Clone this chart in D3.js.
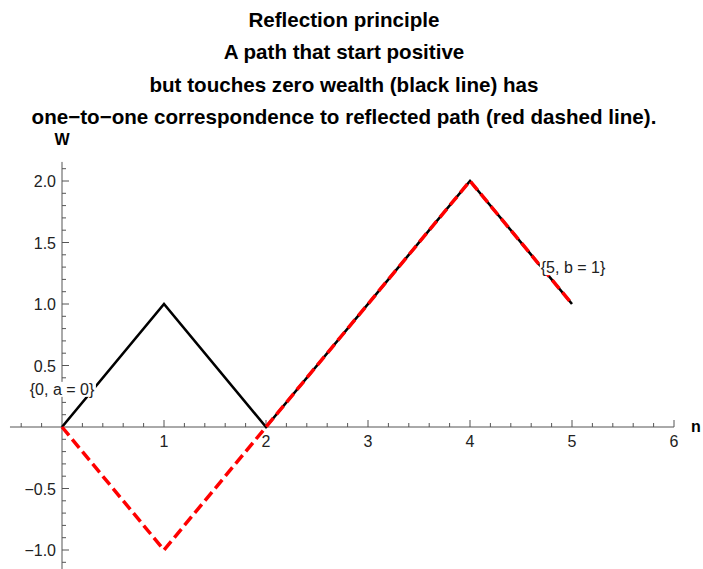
<!DOCTYPE html>
<html>
<head>
<meta charset="utf-8">
<script src="https://cdn.jsdelivr.net/npm/d3@7"></script>
<style>
  body { margin: 0; background: #fff; }
  text { font-family: "Liberation Sans", Arial, sans-serif; }
</style>
</head>
<body>
<svg id="chart" width="703" height="569"></svg>
<script>
// Random-walk path and its reflection about zero wealth
const steps = [0, 1, 2, 4, 5];
const pathW = [0, 1, 0, 2, 1];
const reflectedW = [0, -1, 0, 2, 1];

const xTicks = [1, 2, 3, 4, 5, 6];
const yTicks = [-1.0, -0.5, 0.5, 1.0, 1.5, 2.0];

const titleLines = [
  "Reflection principle",
  "A path that start positive",
  "but touches zero wealth (black line) has",
  "one\u2212to\u2212one correspondence to reflected path (red dashed line)."
];

const pointLabels = [
  { x: 0, y: 0.31, text: "{0, a = 0}" },
  { x: 5.01, y: 1.30, text: "{5, b = 1}" }
];

const svg = d3.select("#chart");

const x = d3.scaleLinear().domain([0, 6]).range([62, 674]);
const y = d3.scaleLinear().domain([0, 2]).range([427, 181]);

// Title
svg.append("g").selectAll("text").data(titleLines).join("text")
  .attr("x", 344).attr("y", (d, i) => 27 + i * 32.3)
  .attr("text-anchor", "middle")
  .attr("font-weight", "bold").attr("font-size", 20.6)
  .attr("fill", "#000").text(d => d);

const axisColor = "#555";
const xMin = -0.51, xMax = 6.0;
const yMin = -1.16, yMax = 2.155;

// Axis lines
svg.append("line").attr("x1", x(xMin)).attr("x2", x(xMax))
  .attr("y1", y(0)).attr("y2", y(0)).attr("stroke", axisColor).attr("stroke-width", 1);
svg.append("line").attr("x1", x(0)).attr("x2", x(0))
  .attr("y1", y(yMin)).attr("y2", y(yMax)).attr("stroke", axisColor).attr("stroke-width", 1);

// X ticks (major every 1, minor every 0.2)
const xMinor = d3.range(-0.4, 6.001, 0.2).map(v => Math.round(v * 10) / 10).filter(v => Math.abs(v) > 1e-9);
svg.append("g").selectAll("line").data(xMinor).join("line")
  .attr("x1", d => x(d)).attr("x2", d => x(d))
  .attr("y1", y(0)).attr("y2", d => y(0) - (Number.isInteger(d) ? 7 : 4))
  .attr("stroke", axisColor).attr("stroke-width", 1);
svg.append("g").selectAll("text").data(xTicks).join("text")
  .attr("x", d => x(d)).attr("y", y(0) + 20)
  .attr("text-anchor", "middle").attr("font-size", 16).attr("fill", "#222")
  .text(d => d);

// Y ticks (major every 0.5, minor every 0.1)
const yMinor = d3.range(-11, 22).map(v => v / 10).filter(v => v !== 0);
svg.append("g").selectAll("line").data(yMinor).join("line")
  .attr("y1", d => y(d)).attr("y2", d => y(d))
  .attr("x1", x(0)).attr("x2", d => x(0) + (Math.abs(d * 2 - Math.round(d * 2)) < 1e-9 ? 7 : 4))
  .attr("stroke", axisColor).attr("stroke-width", 1);
svg.append("g").selectAll("text").data(yTicks).join("text")
  .attr("x", x(0) - 6).attr("y", d => y(d) + 6)
  .attr("text-anchor", "end").attr("font-size", 16).attr("fill", "#222")
  .text(d => d.toFixed(1).replace("-", "\u2212"));

// Axis names
svg.append("text").attr("x", 62).attr("y", 145).attr("text-anchor", "middle")
  .attr("font-weight", "bold").attr("font-size", 16).text("W");
svg.append("text").attr("x", 691).attr("y", 432)
  .attr("font-weight", "bold").attr("font-size", 16).text("n");

const line = d3.line().x(d => x(d[0])).y(d => y(d[1]));

// Original path
svg.append("path").datum(steps.map((s, i) => [s, pathW[i]]))
  .attr("d", line).attr("fill", "none").attr("stroke", "#000").attr("stroke-width", 2.6);

// Reflected path
svg.append("path").datum(steps.map((s, i) => [s, reflectedW[i]]))
  .attr("d", line).attr("fill", "none").attr("stroke", "#f00").attr("stroke-width", 3.5)
  .attr("stroke-dasharray", "11,5");

// Point labels with white backing
const lg = svg.append("g").selectAll("g").data(pointLabels).join("g")
  .attr("transform", d => `translate(${x(d.x)},${y(d.y)})`);
lg.append("text").attr("text-anchor", "middle").attr("dy", 6)
  .attr("font-size", 16).attr("fill", "#222").text(d => d.text)
  .each(function () {
    const b = this.getBBox();
    d3.select(this.parentNode).insert("rect", "text")
      .attr("x", b.x - 1).attr("y", b.y + 1).attr("width", b.width + 2).attr("height", b.height - 2)
      .attr("fill", "#fff");
  });
</script>
</body>
</html>
